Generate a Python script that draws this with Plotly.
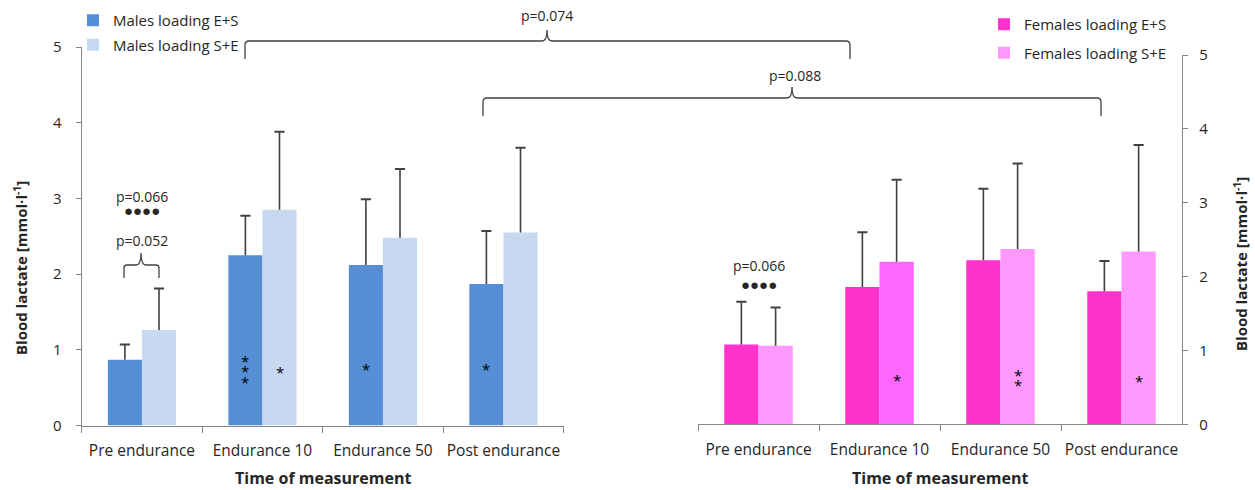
import plotly.graph_objects as go

# ---------------- data ----------------
categories = ["Pre endurance", "Endurance 10", "Endurance 50", "Post endurance"]

males_es = [0.87, 2.25, 2.12, 1.87]
males_es_err = [0.20, 0.52, 0.87, 0.70]
males_se = [1.26, 2.85, 2.48, 2.55]
males_se_err = [0.55, 1.03, 0.91, 1.12]

females_es = [1.08, 1.86, 2.22, 1.80]
females_es_err = [0.58, 0.74, 0.97, 0.41]
females_se = [1.065, 2.20, 2.375, 2.34]
females_se_err = [0.515, 1.11, 1.155, 1.44]

y_ticks = [0, 1, 2, 3, 4, 5]

series_names = ["Males loading E+S", "Males loading S+E",
                "Females loading E+S", "Females loading S+E"]

# ---------------- style ----------------
W, H = 1255, 490
FONT = "Open Sans"
TXT = "#262626"
AX = "#868686"
ERR = "#404040"
C_M_ES = "#558ED5"
C_M_SE = "#C6D9F1"
C_F_ES = "#FF33CC"
C_F_SE = ["#FF99FF", "#FF66FF", "#FF99FF", "#FF99FF"]
BW = 0.283          # bar width in category units
CAP = 0.042         # half cap width in category units


def px(x):
    return x / W


def py(y):
    return 1 - y / H


fig = go.Figure()
shapes = []


def add_bars(vals, errs, color, name, xa, ya, legend, group, side):
    offset = -BW if side < 0 else 0
    fig.add_trace(go.Bar(
        x=categories, y=vals, name=name, marker=dict(color=color, line=dict(width=0)),
        width=BW, offset=offset, xaxis=xa, yaxis=ya, legend=legend,
        legendgroup=group,
        error_y=dict(type="data", array=errs, arrayminus=[0] * len(vals),
                     symmetric=False, color=ERR, thickness=1.6, width=0),
    ))
    # caps on top of the error bars
    for i, (v, e) in enumerate(zip(vals, errs)):
        xc = i + side * BW / 2
        shapes.append(dict(type="line", xref=xa, yref=ya, x0=xc - CAP, x1=xc + CAP,
                           y0=v + e, y1=v + e, line=dict(color=ERR, width=2)))


add_bars(males_es, males_es_err, C_M_ES, series_names[0], "x", "y", "legend", "a", -1)
add_bars(males_se, males_se_err, C_M_SE, series_names[1], "x", "y", "legend", "b", 1)
add_bars(females_es, females_es_err, C_F_ES, series_names[2], "x2", "y2", "legend2", "c", -1)
add_bars(females_se, females_se_err, C_F_SE, series_names[3], "x2", "y2", "legend2", "d", 1)

xcommon = dict(type="category", categoryorder="array", categoryarray=categories,
               showline=True, linecolor=AX, linewidth=1.3, ticks="outside",
               tickson="boundaries", ticklen=6, tickcolor=AX, tickwidth=1.3,
               showgrid=False, zeroline=False, automargin=False, tickangle=0,
               tickfont=dict(family=FONT, size=15.5, color=TXT), ticklabelstandoff=11)
ycommon = dict(range=[0, 5], tickvals=y_ticks, showline=True, linecolor=AX,
               linewidth=1.3, ticks="outside", ticklen=5, tickcolor=AX,
               tickwidth=1.3, showgrid=False, zeroline=False, automargin=False,
               tickfont=dict(family=FONT, size=15, color=TXT))

fig.update_layout(
    width=W, height=H, margin=dict(l=0, r=0, t=0, b=0, autoexpand=False),
    paper_bgcolor="white", plot_bgcolor="white",
    barmode="overlay", font=dict(family=FONT, color=TXT),
    xaxis=dict(domain=[px(81.7), px(563.7)], anchor="y", **xcommon),
    yaxis=dict(domain=[py(425.5), py(47)], anchor="x", ticklabelstandoff=11, **ycommon),
    xaxis2=dict(domain=[px(698), px(1182)], anchor="y2", **xcommon),
    yaxis2=dict(domain=[py(424.3), py(55)], anchor="x2", side="right",
                ticklabelstandoff=8, **ycommon),
    legend=dict(x=px(73), y=py(4), xanchor="left", yanchor="top",
                font=dict(family=FONT, size=15, color=TXT), bgcolor="rgba(0,0,0,0)",
                traceorder="grouped", tracegroupgap=2, itemwidth=30),
    legend2=dict(x=px(984), y=py(8), xanchor="left", yanchor="top",
                 font=dict(family=FONT, size=15, color=TXT), bgcolor="rgba(0,0,0,0)",
                 traceorder="grouped", tracegroupgap=6, itemwidth=30),
    showlegend=True,
)

ann = []


def text(x, y, s, size=14, xref="paper", yref="paper", angle=0, bold=False):
    ann.append(dict(x=x, y=y, xref=xref, yref=yref, text=(f"<b>{s}</b>" if bold else s),
                    showarrow=False, xanchor="center", yanchor="middle",
                    textangle=angle, font=dict(family=FONT, size=size, color=TXT)))


# axis titles
title_y = "Blood lactate [mmol·l<sup>-1</sup>]"
text(px(20), py(268), title_y, size=15, angle=-90, bold=True)
text(px(1240), py(264), title_y, size=15, angle=-90, bold=True)
text(px(322.7), py(478), "Time of measurement", size=16, bold=True)
text(px(940), py(478), "Time of measurement", size=16, bold=True)

# p-values / markers, left panel
text(categories[0], 3.03, "p=0.066", xref="x", yref="y")
text(categories[0], 2.85, "●●●●", size=15, xref="x", yref="y")
text(categories[0], 2.45, "p=0.052", xref="x", yref="y")
# right panel
text(categories[0], 2.145, "p=0.066", xref="x2", yref="y2")
text(categories[0], 1.90, "●●●●", size=15, xref="x2", yref="y2")
# big brackets labels
text(px(547), py(15), "p=0.074")
text(px(795), py(76), "p=0.088")

# asterisks
bar_shift = 120.5 * BW / 2
stars = [
    ("x", "y", 1, -1, [0.89, 0.755, 0.62]),
    ("x", "y", 1, 1, [0.74]),
    ("x", "y", 2, -1, [0.79]),
    ("x", "y", 3, -1, [0.78]),
    ("x2", "y2", 1, 1, [0.645]),
    ("x2", "y2", 2, 1, [0.705, 0.57]),
    ("x2", "y2", 3, 1, [0.63]),
]
for xa, ya, ci, side, ys in stars:
    for yv in ys:
        ann.append(dict(x=categories[ci], y=yv, xref=xa, yref=ya, text="*",
                        showarrow=False, xanchor="center", yanchor="middle",
                        xshift=side * bar_shift, yshift=-3,
                        font=dict(family=FONT, size=15, color="#000000")))

fig.update_layout(annotations=ann)


# braces drawn as paths (pixel geometry -> paper)
def brace(x1, x2, xm, yline, ytip, yend, r=4):
    pts = [
        f"M{px(x1)},{py(yend)}",
        f"L{px(x1)},{py(yline + r)}",
        f"Q{px(x1)},{py(yline)} {px(x1 + r)},{py(yline)}",
        f"L{px(xm - 5)},{py(yline)}",
        f"Q{px(xm)},{py(yline)} {px(xm)},{py(ytip)}",
        f"Q{px(xm)},{py(yline)} {px(xm + 5)},{py(yline)}",
        f"L{px(x2 - r)},{py(yline)}",
        f"Q{px(x2)},{py(yline)} {px(x2)},{py(yline + r)}",
        f"L{px(x2)},{py(yend)}",
    ]
    return dict(type="path", xref="paper", yref="paper", path=" ".join(pts),
                line=dict(color=ERR, width=1.3))


shapes += [
    brace(245, 850, 547, 41, 30, 59),
    brace(483, 1101, 792, 98, 87, 116),
    brace(124, 159, 141, 265, 253, 278, r=3),
]
fig.update_layout(shapes=shapes)

fig.write_html("out.html", config={"displayModeBar": False},
               post_script="document.body.style.margin='0';")
